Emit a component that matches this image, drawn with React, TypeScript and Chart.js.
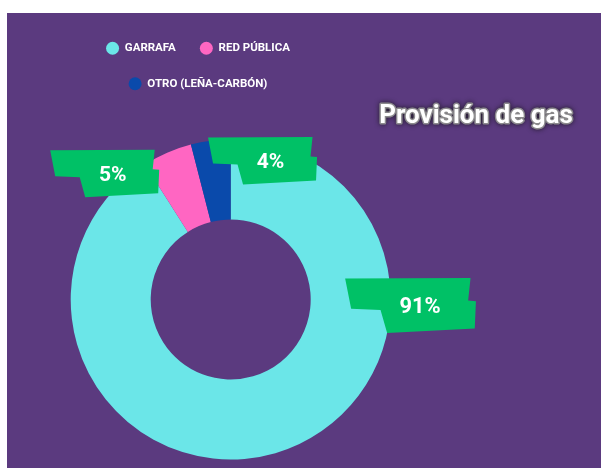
import React, { useEffect, useRef } from 'react';
import { Chart, registerables } from 'chart.js';

Chart.register(...registerables);

// ---- data ----
const categories = ['GARRAFA', 'RED PÚBLICA', 'OTRO (LEÑA-CARBÓN)'];
const shares = [91, 5, 4];
const sliceColors = ['#6be6e8', '#ff66c2', '#0a4aab'];
const chartTitle = 'Provisión de gas';

// ---- styling / placement (not data) ----
const PURPLE = '#5b3a7f';
const GREEN = '#00c166';
// label anchor (text centre) relative to doughnut centre, in units of outer radius, plus ribbon scale
const labelSpots = [
  { dx: 1.184, dy: 0.036, sx: 1.2, sy: 1.16 },
  { dx: -0.7375, dy: -0.789, sx: 1, sy: 1 },
  { dx: 0.249, dy: -0.869, sx: 1, sy: 1 },
];
// ribbon outline relative to text centre (unit scale, px at radius 160)
const ribbon: [number, number][] = [
  [-62.5, -23], [42, -23.5], [40, -4], [46.5, -3.5], [45.5, 20], [-27.5, 24], [-33, 4], [-57.5, 3],
];

const ribbonPlugin = {
  id: 'ribbons',
  afterDatasetsDraw(chart: any) {
    const meta = chart.getDatasetMeta(0);
    const arc = meta.data[0];
    if (!arc) return;
    const { x: cx, y: cy, outerRadius: R } = arc.getProps(['x', 'y', 'outerRadius'], true);
    const k = R / 160;
    const ctx = chart.ctx as CanvasRenderingContext2D;
    const values = chart.data.datasets[0].data as number[];
    labelSpots.forEach((spot, i) => {
      const lx = cx + spot.dx * R;
      const ly = cy + spot.dy * R;
      ctx.save();
      ctx.beginPath();
      ribbon.forEach(([px, py], j) => {
        const X = lx + px * spot.sx * k;
        const Y = ly + py * spot.sy * k;
        if (j === 0) ctx.moveTo(X, Y);
        else ctx.lineTo(X, Y);
      });
      ctx.closePath();
      ctx.fillStyle = GREEN;
      ctx.fill();
      const size = 21 * k * (spot.sx > 1 ? 1.04 : 1);
      ctx.font = `bold ${size}px Roboto, sans-serif`;
      ctx.fillStyle = '#ffffff';
      ctx.textAlign = 'center';
      ctx.textBaseline = 'alphabetic';
      ctx.fillText(`${values[i]}%`, lx, ly + size * 0.355);
      ctx.restore();
    });
  },
};

const headlinePlugin = {
  id: 'headline',
  afterDraw(chart: any) {
    const ctx = chart.ctx as CanvasRenderingContext2D;
    const x = chart.width - 125;
    const y = 110.3;
    ctx.save();
    ctx.font = 'bold 26px Roboto, sans-serif';
    ctx.textAlign = 'center';
    ctx.textBaseline = 'alphabetic';
    ctx.lineJoin = 'round';
    ctx.shadowColor = 'rgba(20,20,20,0.9)';
    ctx.shadowBlur = 5;
    ctx.strokeStyle = 'rgba(150,150,150,0.9)';
    ctx.lineWidth = 3;
    ctx.strokeText(chartTitle, x, y);
    ctx.shadowBlur = 0;
    ctx.shadowColor = 'rgba(0,0,0,0)';
    ctx.fillStyle = '#ffffff';
    ctx.fillText(chartTitle, x, y);
    ctx.restore();
  },
};

export default function App() {
  const canvasRef = useRef<HTMLCanvasElement | null>(null);

  useEffect(() => {
    if (!canvasRef.current) return;
    const chart = new Chart(canvasRef.current, {
      type: 'doughnut',
      data: {
        labels: categories,
        datasets: [
          {
            data: shares,
            backgroundColor: sliceColors,
            borderWidth: 0,
            hoverOffset: 0,
            offset: 0,
          },
        ],
      },
      options: {
        animation: false,
        responsive: true,
        maintainAspectRatio: false,
        events: [],
        cutout: '50%',
        layout: { padding: { left: -2, right: 210, top: 5.5, bottom: 8.5 } },
        plugins: {
          legend: {
            display: true,
            position: 'top',
            align: 'center',
            fullSize: true,
            labels: {
              color: '#ffffff',
              font: { family: 'Roboto, sans-serif', weight: 'bold', size: 11.5 },
              usePointStyle: true,
              pointStyle: 'circle',
              pointStyleWidth: 13,
              boxHeight: 9.2,
              padding: 24,
            },
          },
          // invisible spacer on the left to shift the ring relative to the legend
          title: {
            display: true,
            position: 'left',
            text: ' ',
            color: 'rgba(0,0,0,0)',
            font: { size: 10 },
            padding: { top: 53.4, bottom: 0 },
          },
          // invisible spacer between legend and ring
          subtitle: {
            display: true,
            position: 'top',
            weight: 500,
            text: ' ',
            color: 'rgba(0,0,0,0)',
            font: { size: 10 },
            padding: { top: 28, bottom: 0 },
          },
          tooltip: { enabled: false },
        },
      } as any,
      plugins: [ribbonPlugin, headlinePlugin],
    });
    return () => chart.destroy();
  }, []);

  return (
    <div
      style={{
        position: 'fixed',
        left: 7,
        top: 13,
        width: 594,
        height: 455,
        background: PURPLE,
        overflow: 'hidden',
      }}
    >
      <canvas ref={canvasRef} />
    </div>
  );
}
